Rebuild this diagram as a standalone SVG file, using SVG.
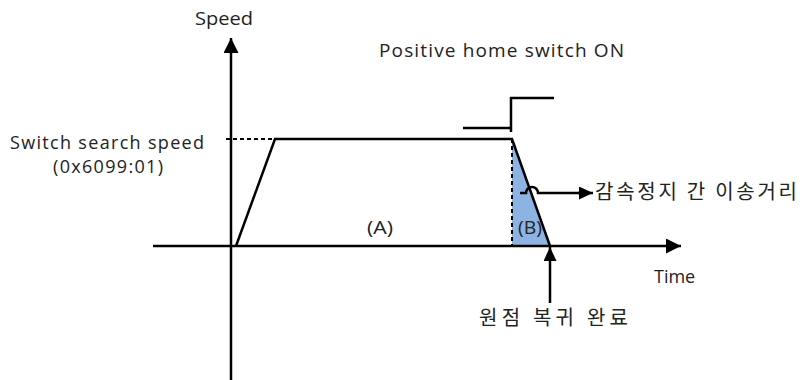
<svg xmlns="http://www.w3.org/2000/svg" width="803" height="380" viewBox="0 0 803 380">
<style>
text{font-family:"Open Sans","Noto Sans CJK KR",sans-serif;font-size:19px;fill:#222}
.s{font-size:18px}
.k{font-family:"Noto Sans CJK KR",sans-serif;font-size:20px}
.ln{stroke:#000;stroke-width:2.5;fill:none}
.ds{stroke:#000;stroke-width:2;stroke-dasharray:4 3;fill:none}
</style>
<defs>
<marker id="ah2" markerWidth="15" markerHeight="15" refX="15" refY="7.5" orient="auto" markerUnits="userSpaceOnUse" viewBox="0 0 15 15">
<path d="M0,0 L15,7.5 L0,15 z" fill="#000"/>
</marker>
<marker id="ah3" markerWidth="14" markerHeight="13" refX="14" refY="6.5" orient="auto" markerUnits="userSpaceOnUse" viewBox="0 0 14 13">
<path d="M0,0 L14,6.5 L0,13 z" fill="#000"/>
</marker>
</defs>
<rect width="803" height="380" fill="#fff"/>
<g id="area-b"><polygon points="512,139 512,246 550,246" fill="#8DB3E2"/></g>
<g id="connectors">
<line class="ln" x1="231" y1="380" x2="231" y2="38" marker-end="url(#ah2)"/>
<line class="ln" x1="153" y1="246" x2="681" y2="246" marker-end="url(#ah2)"/>
<polyline class="ln" points="236,246 275,139 512,139 550,246"/>
<line class="ds" x1="226" y1="139" x2="275" y2="139"/>
<line class="ds" x1="512" y1="139" x2="512" y2="246"/>
<polyline class="ln" points="463,128 511,128"/>
<polyline class="ln" points="511,132 511,98 554,98"/>
<path class="ln" d="M520,193 L526,193 A6,6 0 0 1 538,193 L582,193" stroke-width="2"/>
<line class="ln" x1="578" y1="193" x2="593" y2="193" marker-end="url(#ah3)"/>
<line class="ln" x1="550" y1="303" x2="550" y2="247" marker-end="url(#ah3)"/>
</g>
<g id="labels">
<text x="195" y="25" textLength="58" lengthAdjust="spacingAndGlyphs">Speed</text>
<text x="379" y="57" textLength="245" lengthAdjust="spacing">Positive home switch ON</text>
<text class="s" x="10" y="149" textLength="194" lengthAdjust="spacing">Switch search speed</text>
<text class="s" x="53" y="173" textLength="110" lengthAdjust="spacing">(0x6099:01)</text>
<text x="367" y="234" textLength="26" lengthAdjust="spacingAndGlyphs">(A)</text>
<text x="518" y="234" textLength="24" lengthAdjust="spacingAndGlyphs">(B)</text>
<text class="s" x="654" y="283">Time</text>
<text class="k" x="595" y="199" textLength="202" lengthAdjust="spacing">감속정지 간 이송거리</text>
<text class="k" x="479" y="325" textLength="149" lengthAdjust="spacing">원점 복귀 완료</text>
</g>
</svg>
